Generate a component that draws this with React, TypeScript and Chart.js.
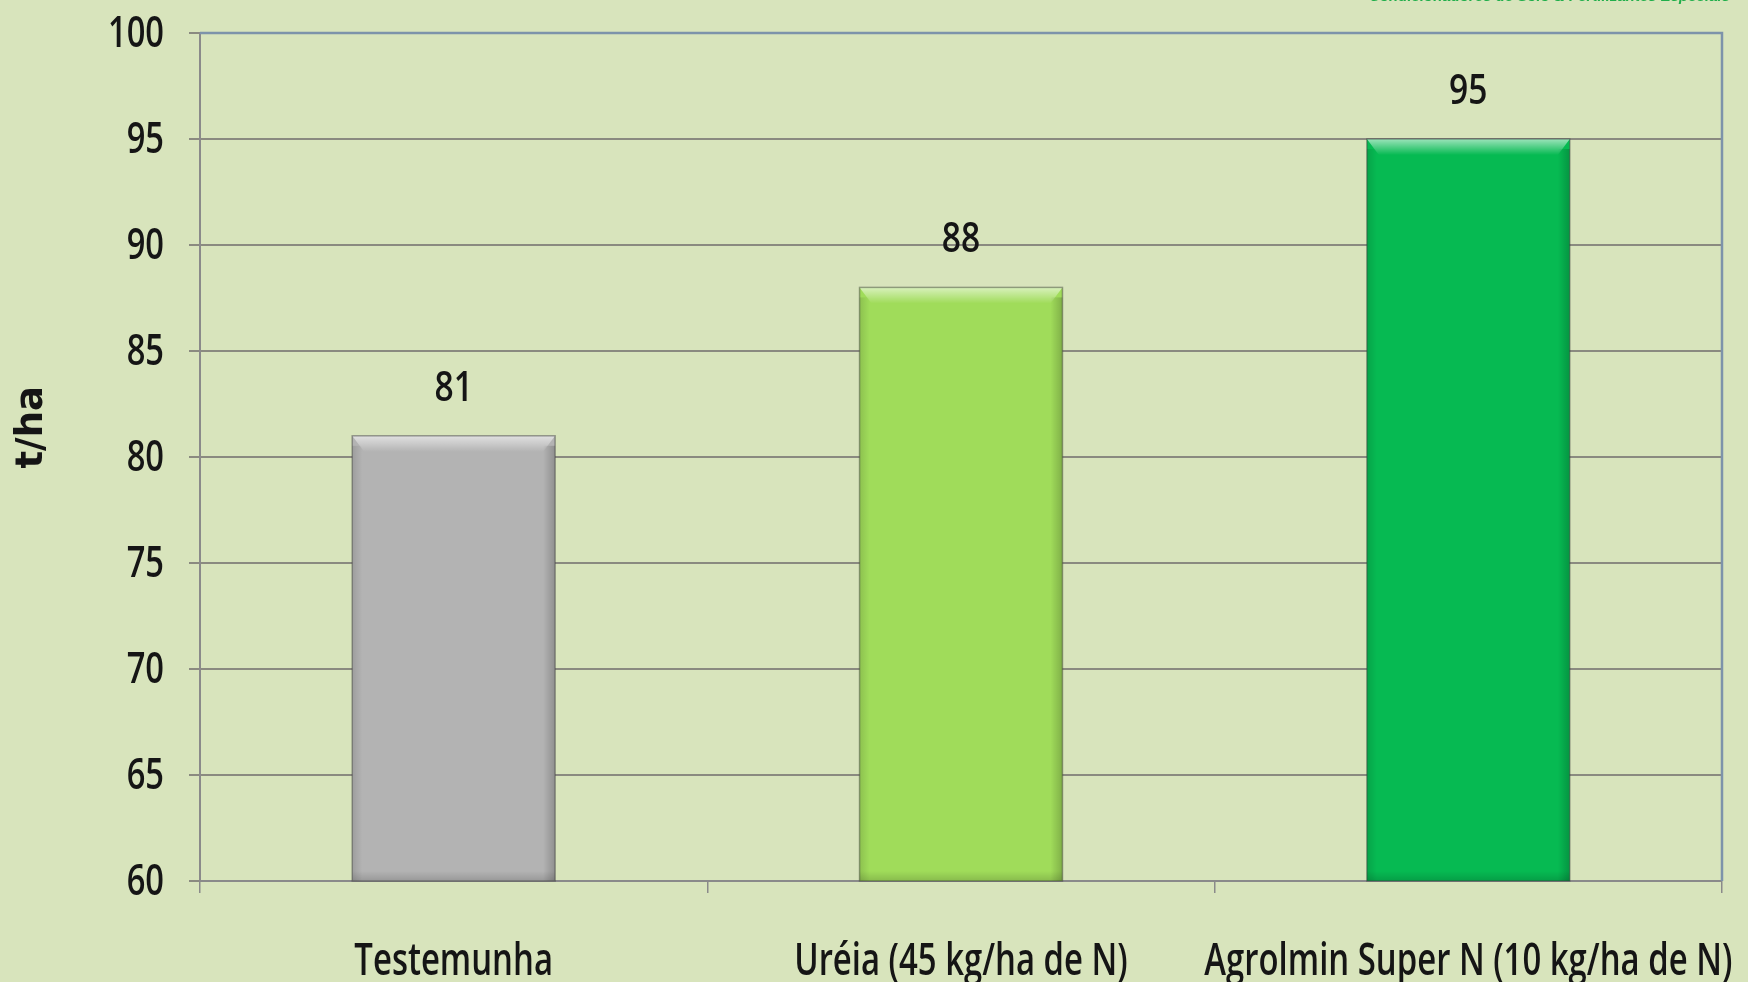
import React, { useEffect, useRef } from "react";
import { Chart, registerables } from "chart.js";

Chart.register(...registerables);

const categories = ["Testemunha", "Uréia (45 kg/ha de N)", "Agrolmin Super N (10 kg/ha de N)"];
const values = [81, 88, 95];
const barColors = ["#b3b3b3", "#a0dc5a", "#06ba52"];
const yTicks = [60, 65, 70, 75, 80, 85, 90, 95, 100];
const yTitle = "t/ha";
const brandText = "Condicionadores de Solo & Fertilizantes Especiais";

const FONT = "'Open Sans', 'Noto Sans', sans-serif";

function drawCondensed(ctx: any, text: string, x: number, y: number, size: number, sx: number, align: string, baseline: string) {
  ctx.save();
  ctx.font = `600 ${size}px ${FONT}`;
  ctx.fillStyle = "#151515";
  ctx.textAlign = align;
  ctx.textBaseline = baseline;
  ctx.translate(x, y);
  ctx.scale(sx, 1);
  ctx.fillText(text, 0, 0);
  ctx.restore();
}

const bevelPlugin = {
  id: "bevel",
  afterDatasetsDraw(chart: any) {
    const ctx = chart.ctx;
    const area = chart.chartArea;
    const meta = chart.getDatasetMeta(0);
    meta.data.forEach((bar: any) => {
      const p = bar.getProps(["x", "y", "width", "base"], true);
      const l = p.x - p.width / 2;
      const r = p.x + p.width / 2;
      const t = p.y;
      const b = Math.min(p.base, area.bottom);
      ctx.save();
      const g = ctx.createLinearGradient(0, t, 0, t + 16);
      g.addColorStop(0, "rgba(255,255,255,0.6)");
      g.addColorStop(1, "rgba(255,255,255,0)");
      ctx.fillStyle = g;
      ctx.beginPath();
      ctx.moveTo(l, t);
      ctx.lineTo(r, t);
      ctx.lineTo(r - 12, t + 16);
      ctx.lineTo(l + 12, t + 16);
      ctx.closePath();
      ctx.fill();
      const gr = ctx.createLinearGradient(r - 12, 0, r, 0);
      gr.addColorStop(0, "rgba(0,0,0,0)");
      gr.addColorStop(1, "rgba(0,0,0,0.2)");
      ctx.fillStyle = gr;
      ctx.fillRect(r - 12, t + 10, 12, b - t - 10);
      const gl = ctx.createLinearGradient(l, 0, l + 10, 0);
      gl.addColorStop(0, "rgba(0,0,0,0.12)");
      gl.addColorStop(1, "rgba(0,0,0,0)");
      ctx.fillStyle = gl;
      ctx.fillRect(l, t + 10, 10, b - t - 10);
      const gb = ctx.createLinearGradient(0, b - 10, 0, b);
      gb.addColorStop(0, "rgba(0,0,0,0)");
      gb.addColorStop(1, "rgba(0,0,0,0.15)");
      ctx.fillStyle = gb;
      ctx.fillRect(l, b - 10, r - l, 10);
      ctx.strokeStyle = "rgba(60,60,60,0.45)";
      ctx.lineWidth = 1.5;
      ctx.strokeRect(l, t, r - l, b - t);
      ctx.restore();
    });
  },
};

const textPlugin = {
  id: "texts",
  afterDraw(chart: any) {
    const ctx = chart.ctx;
    const xs = chart.scales.x;
    const ys = chart.scales.y;
    const meta = chart.getDatasetMeta(0);
    meta.data.forEach((bar: any, i: number) => {
      drawCondensed(ctx, String(values[i]), bar.x, bar.y - 47, 42, 0.8, "center", "middle");
    });
    categories.forEach((c, i) => {
      drawCondensed(ctx, c, xs.getPixelForTick(i), xs.bottom - 7, 46, 0.715, "center", "alphabetic");
    });
    yTicks.forEach((v) => {
      drawCondensed(ctx, String(v), ys.right - 36, ys.getPixelForValue(v) + 2, 43, 0.76, "right", "middle");
    });
    // axis title
    ctx.save();
    ctx.font = `bold 37px 'DejaVu Sans', sans-serif`;
    ctx.fillStyle = "#151515";
    ctx.textAlign = "center";
    ctx.textBaseline = "middle";
    ctx.translate(ys.left + 32, ys.top + (ys.bottom - ys.top) * 0.465);
    ctx.rotate(-Math.PI / 2);
    ctx.fillText(yTitle, 0, 0);
    ctx.restore();
  },
};

const borderPlugin = {
  id: "plotBorder",
  afterDraw(chart: any) {
    const { ctx, chartArea } = chart;
    ctx.save();
    ctx.strokeStyle = "#7d93aa";
    ctx.lineWidth = 2.5;
    ctx.beginPath();
    ctx.moveTo(chartArea.left, chartArea.top);
    ctx.lineTo(chartArea.right, chartArea.top);
    ctx.lineTo(chartArea.right, chartArea.bottom);
    ctx.stroke();
    ctx.restore();
  },
};

export default function App() {
  const ref = useRef<HTMLCanvasElement>(null);
  useEffect(() => {
    document.body.style.margin = "0";
    const chart = new Chart(ref.current!, {
      type: "bar",
      data: {
        labels: categories,
        datasets: [
          {
            data: values,
            backgroundColor: barColors,
            borderWidth: 0,
            categoryPercentage: 1,
            barPercentage: 0.4,
          },
        ],
      },
      options: {
        animation: false,
        responsive: false,
        maintainAspectRatio: false,
        layout: { padding: { top: 33, right: 26, left: 0, bottom: 0 } },
        plugins: { legend: { display: false }, tooltip: { enabled: false } },
        scales: {
          x: {
            offset: true,
            grid: {
              offset: true,
              drawOnChartArea: false,
              drawTicks: true,
              tickLength: 12,
              color: "#8a8a8a",
              lineWidth: 1.5,
            },
            border: { color: "#8a8a8a", width: 2 },
            ticks: { display: false },
            afterFit(scale: any) {
              scale.height = 101;
              scale.paddingLeft = 0;
              scale.paddingRight = 0;
            },
          },
          y: {
            min: 60,
            max: 100,
            afterBuildTicks(scale: any) {
              scale.ticks = yTicks.map((v) => ({ value: v }));
            },
            grid: {
              color: "#8a8a80",
              lineWidth: 2,
              tickLength: 11,
            },
            border: { color: "#8a8a8a", width: 2 },
            ticks: { display: false },
            title: { display: false, text: yTitle },
            afterFit(scale: any) {
              scale.width = 200;
              scale.paddingTop = 0;
              scale.paddingBottom = 0;
            },
          },
        },
      },
      plugins: [bevelPlugin, textPlugin, borderPlugin],
    } as any);
    return () => chart.destroy();
  }, []);
  return (
    <div style={{ position: "fixed", left: 0, top: 0, width: 1748, height: 982, background: "#d8e4bc", overflow: "hidden" }}>
      <div
        style={{
          position: "absolute",
          right: 18,
          top: -13,
          fontFamily: "'Liberation Sans', Arial, sans-serif",
          fontSize: 15,
          fontStyle: "italic",
          fontWeight: "bold",
          color: "#1fae4a",
          whiteSpace: "nowrap",
        }}
      >
        {brandText}
      </div>
      <canvas ref={ref} width={1748} height={982} style={{ display: "block" }} />
    </div>
  );
}
